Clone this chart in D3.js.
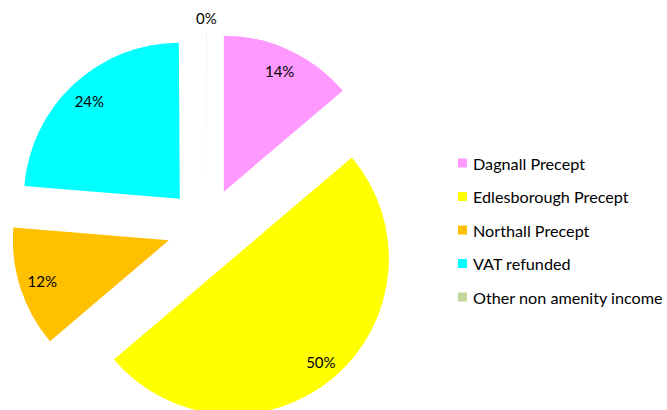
<!DOCTYPE html>
<html><head><meta charset="utf-8">
<script src="https://cdn.jsdelivr.net/npm/d3@7"></script>
<style>body{margin:0;background:#fff}svg{display:block}</style>
</head><body>
<svg id="chart" width="667" height="410"></svg>
<script>
const categories = ["Dagnall Precept","Edlesborough Precept","Northall Precept","VAT refunded","Other non amenity income"];
const values = [13.8, 50.0, 12.5, 23.6, 0.1];
const labels = ["14%","50%","12%","24%","0%"];
const colors = ["#FF99FF","#FFFF00","#FFC000","#00FFFF","#C3D69B"];

const svg = d3.select("#chart");
const cx = 207, cy = 228, R = 156, explode = 40;
const font = "Lato, 'Liberation Sans', sans-serif";

const data = categories.map((c,i)=>({name:c,value:values[i],label:labels[i],color:colors[i]}));
const pie = d3.pie().sort(null).value(d=>d.value).startAngle(0).endAngle(2*Math.PI);
const arcs = pie(data);
const arc = d3.arc().innerRadius(0).outerRadius(R);

const g = svg.append("g").attr("transform",`translate(${cx},${cy})`);
const slice = g.selectAll("g.s").data(arcs).join("g").attr("class","s")
  .attr("transform",d=>{const a=(d.startAngle+d.endAngle)/2;return `translate(${explode*Math.sin(a)},${-explode*Math.cos(a)})`;});
slice.append("path").attr("d",arc).attr("fill",d=>d.data.value<1?"#eef3e4":d.data.color);
slice.append("text")
  .attr("x",d=>{const a=(d.startAngle+d.endAngle)/2;const r=d.data.value<1?R+14:d.data.value>40?136:133;return r*Math.sin(a);})
  .attr("y",d=>{const a=(d.startAngle+d.endAngle)/2;const r=d.data.value<1?R+14:d.data.value>40?136:133;return -r*Math.cos(a);})
  .attr("text-anchor","middle").attr("dominant-baseline","central")
  .attr("font-family",font).attr("font-size",15).attr("fill","#000")
  .text(d=>d.data.label);

const leg = svg.append("g").attr("transform","translate(458,0)");
const ly = d3.scalePoint().domain(categories).range([163,297]);
const row = leg.selectAll("g").data(data).join("g").attr("transform",d=>`translate(0,${ly(d.name)})`);
row.append("rect").attr("x",0).attr("y",-4.5).attr("width",9).attr("height",9).attr("fill",d=>d.color);
row.append("text").attr("x",15).attr("y",0).attr("dominant-baseline","central")
  .attr("font-family",font).attr("font-size",16.2).attr("fill","#000").text(d=>d.name);
</script>
</body></html>
